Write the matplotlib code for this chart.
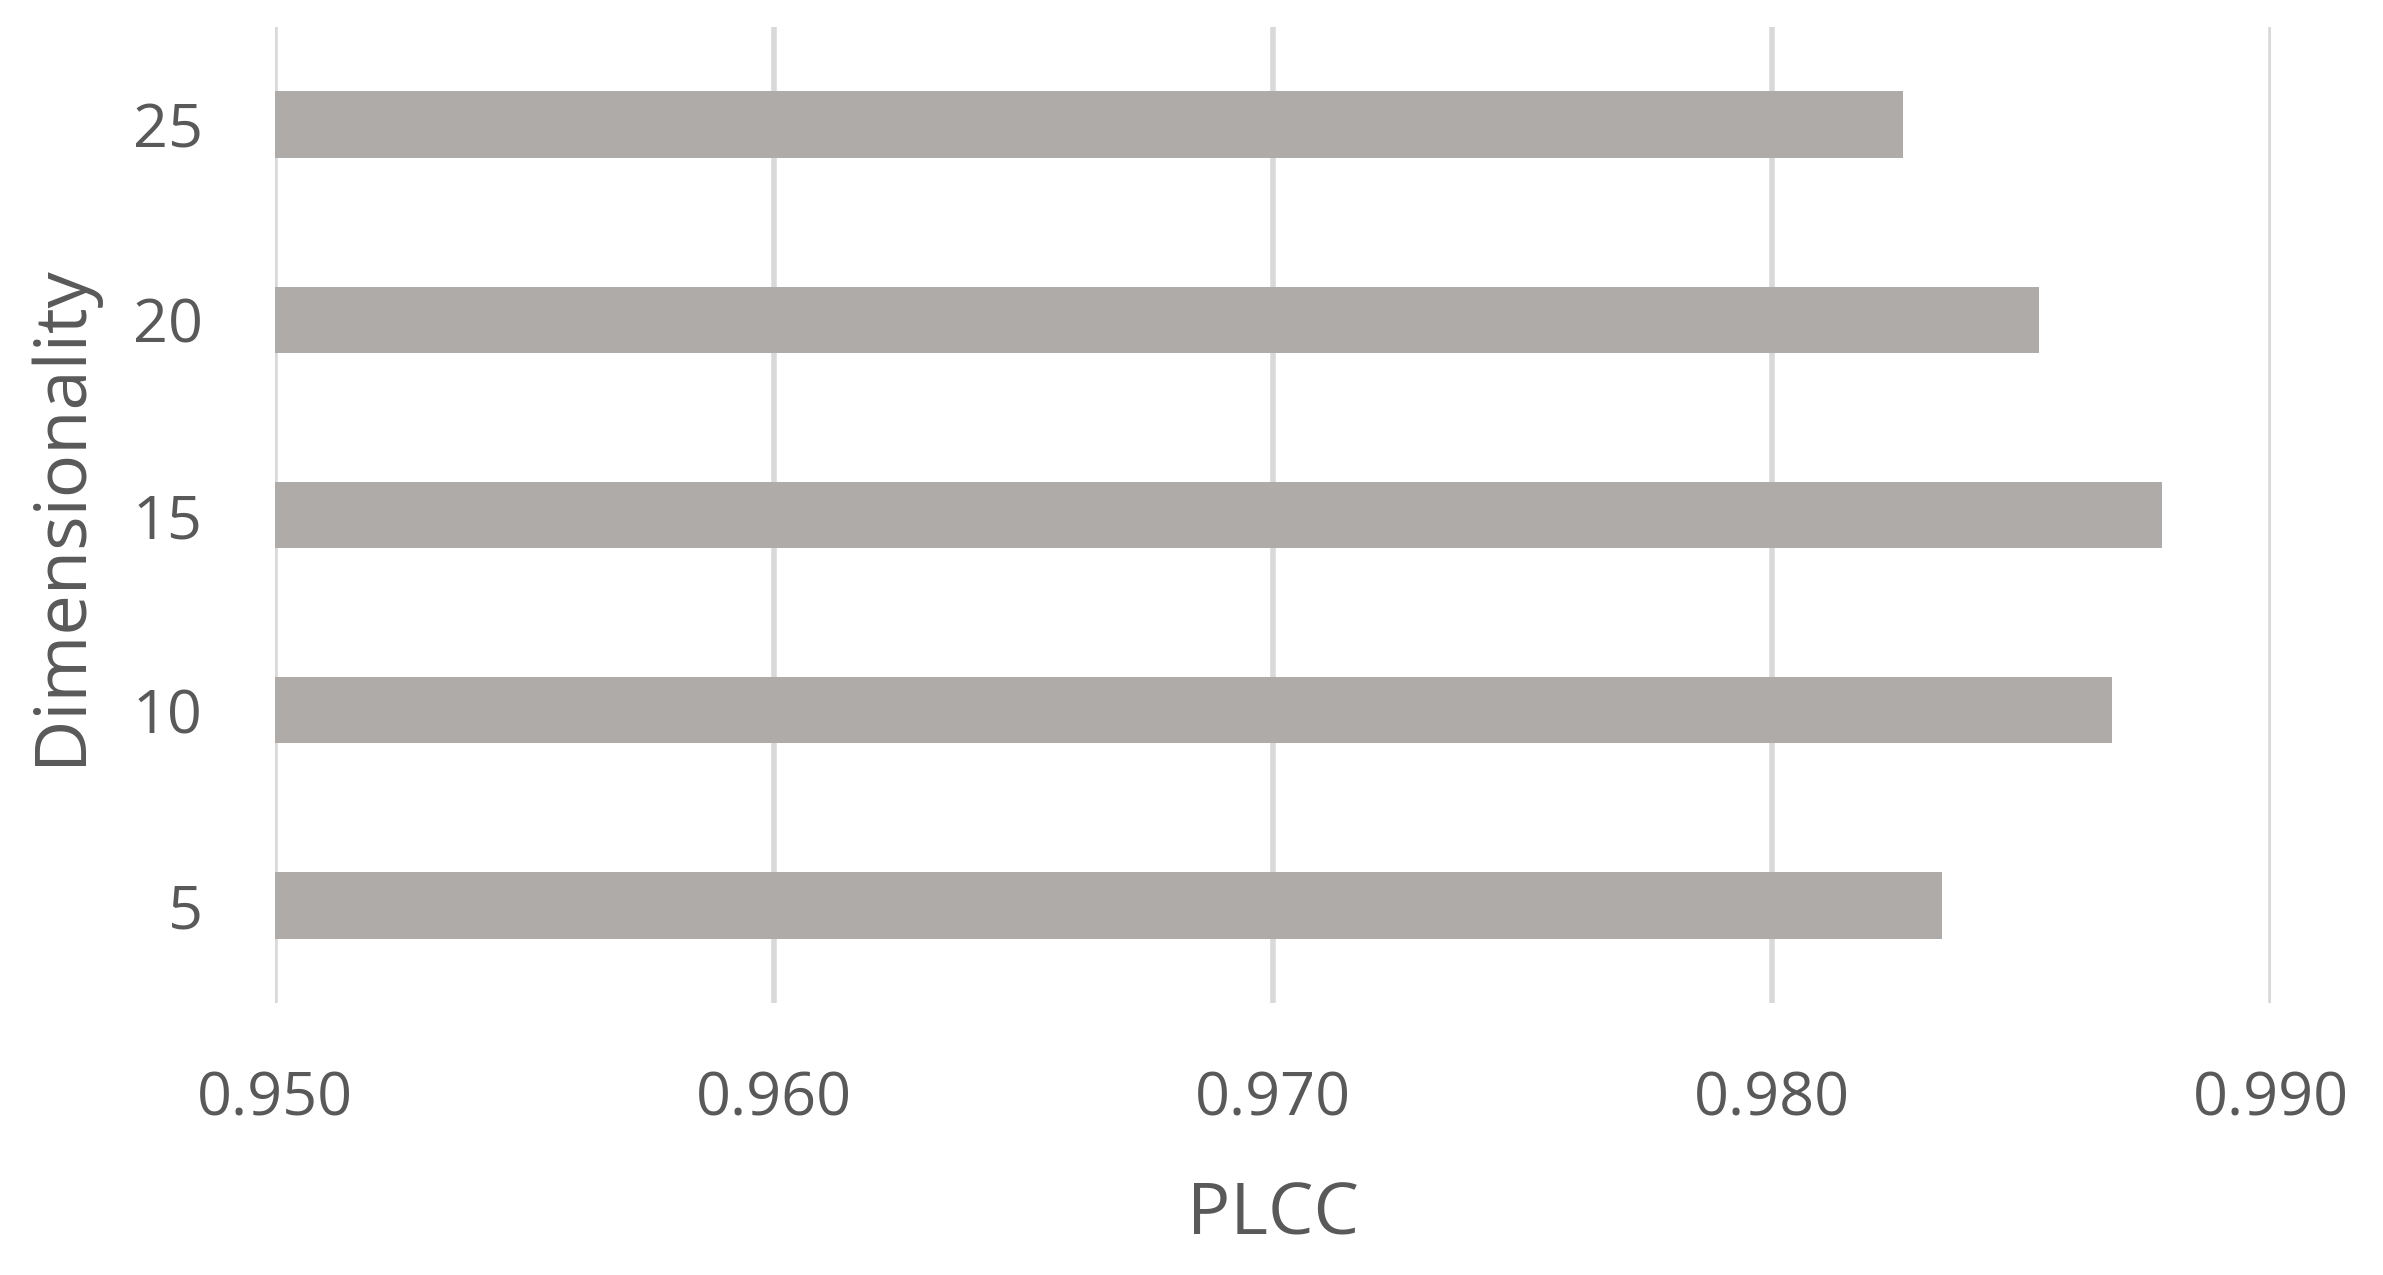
import matplotlib
matplotlib.use('Agg')
import matplotlib.pyplot as plt
#
plt.rcParams['font.family'] = ['Open Sans', 'DejaVu Sans']
#
dims = ['5', '10', '15', '20', '25']
plcc = [0.98341, 0.98681, 0.98782, 0.98535, 0.98263]
xticks = [0.950, 0.960, 0.970, 0.980, 0.990]
#
TEXT = '#595959'
BAR = '#aeaba8'
GRID = '#d9d9d9'
#
fig = plt.figure(figsize=(11.915, 6.375), dpi=200)
ax = fig.add_axes([0.1154, 0.2133, 0.8376, 0.7655])
#
ax.barh(range(len(dims)), plcc, height=0.34, left=0, color=BAR, zorder=3)
ax.set_xlim(0.95, 0.99)
ax.set_ylim(-0.5, len(dims) - 0.5)
#
ax.set_xticks(xticks)
ax.set_xticklabels(['{:.3f}'.format(v) for v in xticks])
ax.set_yticks(range(len(dims)))
ax.set_yticklabels(dims)
#
ax.grid(axis='x', color=GRID, linewidth=2.0, zorder=0)
ax.grid(axis='y', visible=False)
for s in ax.spines.values():
	s.set_visible(False)
#
ax.tick_params(axis='both', length=0, labelsize=22, labelcolor=TEXT)
ax.tick_params(axis='x', pad=24)
ax.tick_params(axis='y', pad=26)
#
ax.set_xlabel('PLCC', fontsize=26, color=TEXT)
ax.set_ylabel('Dimensionality', fontsize=26, color=TEXT)
ax.xaxis.set_label_coords(0.5, -0.218)
ax.xaxis.label.set_va('center')
ax.yaxis.set_label_coords(-0.107, 0.5)
ax.yaxis.label.set_va('center')
#
fig.savefig('out.png', dpi=200)
